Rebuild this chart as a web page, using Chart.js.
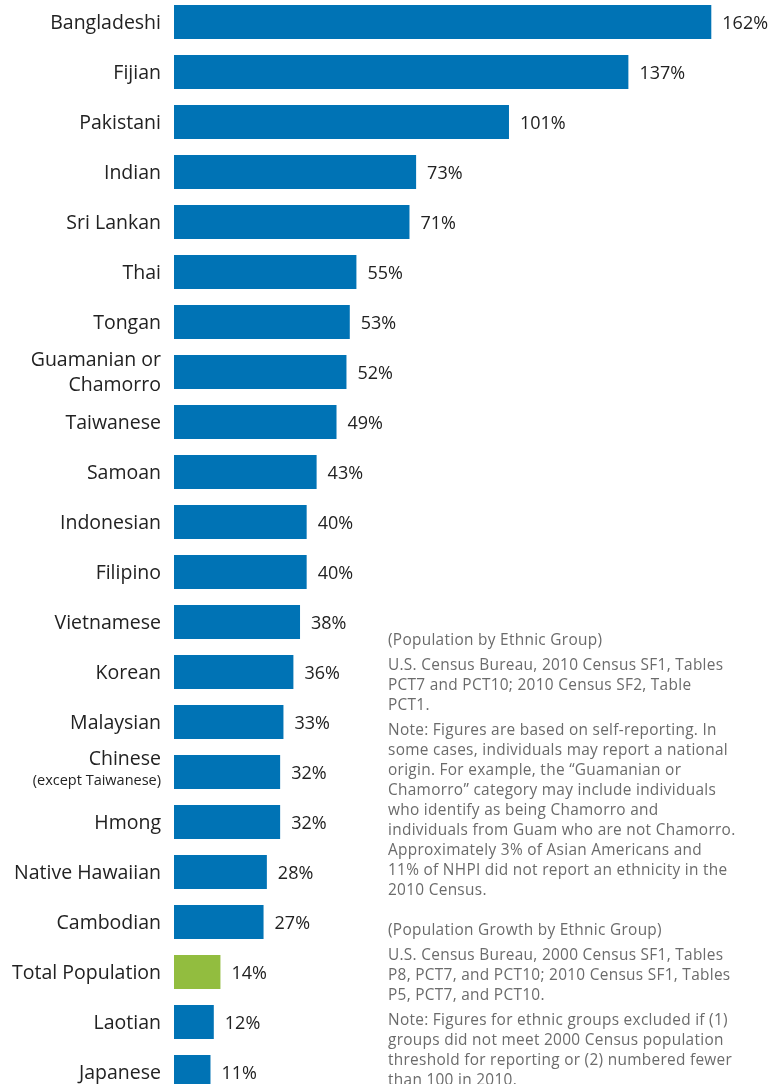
<!DOCTYPE html>
<html>
<head>
<meta charset="utf-8">
<script src="https://cdn.jsdelivr.net/npm/chart.js@4.4.0/dist/chart.umd.min.js"></script>
<style>
  html, body { margin: 0; padding: 0; background: #fff; overflow: hidden; }
  #wrap { position: absolute; left: 0; top: -3px; width: 783px; height: 1100px; }
  #notes {
    position: absolute; left: 388px; top: 630px; width: 395px;
    font-family: "Open Sans", sans-serif; font-size: 15.4px; letter-spacing: 0.3px; line-height: 20px; color: #6b6b6b;
  }
  #notes p { margin: 0 0 5px 0; white-space: nowrap; }
  #notes .block2 { margin-top: 20px; }
</style>
</head>
<body>
<div id="wrap"><canvas id="growthChart"></canvas></div>

<div id="notes">
  <p>(Population by Ethnic Group)</p>
  <p>U.S. Census Bureau, 2010 Census SF1, Tables<br>PCT7 and PCT10; 2010 Census SF2, Table<br>PCT1.</p>
  <p>Note: Figures are based on self-reporting. In<br>some cases, individuals may report a national<br>origin. For example, the “Guamanian or<br>Chamorro” category may include individuals<br>who identify as being Chamorro and<br>individuals from Guam who are not Chamorro.<br>Approximately 3% of Asian Americans and<br>11% of NHPI did not report an ethnicity in the<br>2010 Census.</p>
  <p class="block2">(Population Growth by Ethnic Group)</p>
  <p>U.S. Census Bureau, 2000 Census SF1, Tables<br>P8, PCT7, and PCT10; 2010 Census SF1, Tables<br>P5, PCT7, and PCT10.</p>
  <p>Note: Figures for ethnic groups excluded if (1)<br>groups did not meet 2000 Census population<br>threshold for reporting or (2) numbered fewer<br>than 100 in 2010.</p>
</div>

<script>
// categories and growth values (percent, 2000-2010)
const groups = ['Bangladeshi', 'Fijian', 'Pakistani', 'Indian', 'Sri Lankan', 'Thai', 'Tongan',
  'Guamanian or Chamorro', 'Taiwanese', 'Samoan', 'Indonesian', 'Filipino', 'Vietnamese', 'Korean',
  'Malaysian', 'Chinese (except Taiwanese)', 'Hmong', 'Native Hawaiian', 'Cambodian',
  'Total Population', 'Laotian', 'Japanese']
const growth = [162, 137, 101, 73, 71, 55, 53, 52, 49, 43, 40, 40, 38, 36, 33, 32, 32, 28, 27, 14, 12, 11]
const highlighted = ['Total Population']

const blue = '#0073b5'
const green = '#92bd3f'

// dessin des libellés à gauche et des valeurs à droite des barres
const labelPlugin = {
  id: 'labelPlugin',
  afterDatasetsDraw(chart) {
    const ctx = chart.ctx
    const yScale = chart.scales.y
    const bars = chart.getDatasetMeta(0).data
    ctx.save()
    ctx.fillStyle = '#222'
    ctx.textBaseline = 'middle'

    groups.forEach((name, i) => {
      const y = yScale.getPixelForValue(i) + 1.5
      ctx.textAlign = 'right'
      if (name === 'Guamanian or Chamorro') {
        ctx.font = '19.5px "Open Sans"'
        ctx.fillText('Guamanian or', 161, y - 13)
        ctx.fillText('Chamorro', 161, y + 12)
      } else if (name === 'Chinese (except Taiwanese)') {
        ctx.font = '19.5px "Open Sans"'
        ctx.fillText('Chinese', 161, y - 14)
        ctx.font = '14.5px "Open Sans"'
        ctx.fillText('(except Taiwanese)', 161, y + 7)
      } else {
        ctx.font = '19.5px "Open Sans"'
        ctx.fillText(name, 161, y)
      }

      ctx.textAlign = 'left'
      ctx.font = '18px "Open Sans"'
      ctx.fillText(growth[i] + '%', bars[i].x + 11, y)
    })
    ctx.restore()
  }
}

const ctx = document.getElementById('growthChart').getContext('2d')
const growthChart = new Chart(ctx, {
  type: 'bar',
  data: {
    labels: groups,
    datasets: [{
      data: growth,
      backgroundColor: groups.map(g => highlighted.includes(g) ? green : blue),
      barPercentage: 0.68,
      categoryPercentage: 1.0
    }]
  },
  options: {
    indexAxis: 'y',
    responsive: true,
    maintainAspectRatio: false,
    animation: false,
    layout: { padding: { left: 174, right: 12, top: 0, bottom: 0 } },
    scales: {
      x: { display: false, min: 0, max: 180 },
      y: { display: false }
    },
    plugins: {
      legend: { display: false },
      tooltip: { enabled: false }
    }
  },
  plugins: [labelPlugin]
})
</script>
</body>
</html>
